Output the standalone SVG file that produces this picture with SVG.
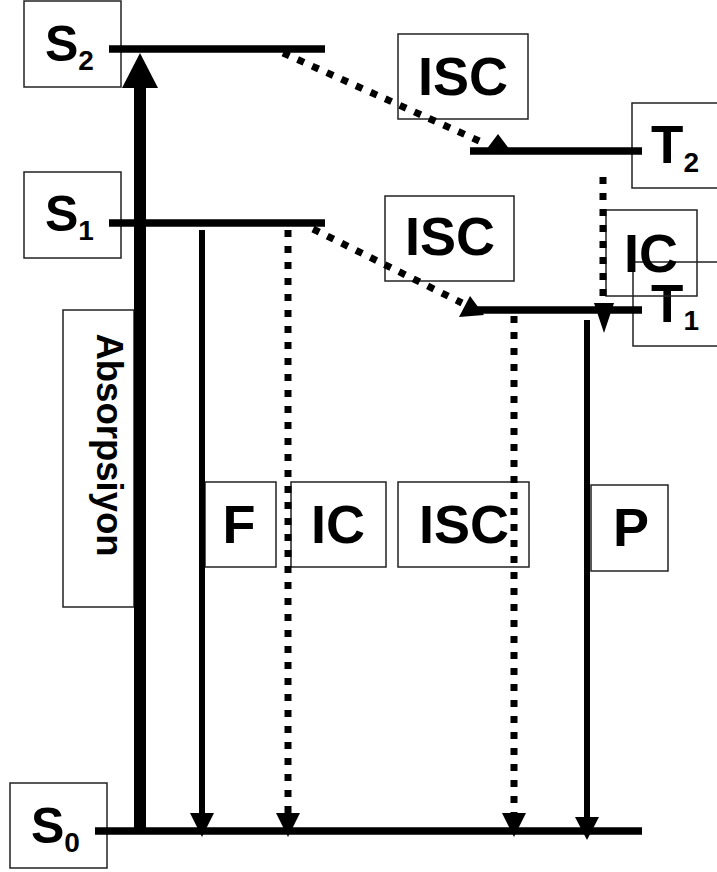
<svg xmlns="http://www.w3.org/2000/svg" width="717" height="872" viewBox="0 0 717 872">
<style>
.box{fill:none;stroke:#222;stroke-width:1.5}
.lbl{font-family:"Liberation Sans",Arial,sans-serif;font-weight:bold;font-size:54px;fill:#000}
.mid{text-anchor:middle}
.lvl{stroke:#000;stroke-width:7.5;fill:none}
.solid{stroke:#000;stroke-width:6;fill:none}
.dot{stroke:#000;stroke-width:7;stroke-dasharray:7 9;fill:none}
.head{fill:#000}
</style>
<rect width="717" height="872" fill="#fff"/>

<g id="S2">
  <rect class="box" x="24" y="1" width="97" height="86"/>
  <text class="lbl" x="45" y="61" style="font-size:50px">S<tspan style="font-size:28px" dy="9">2</tspan></text>
  <line class="lvl" x1="109" y1="49" x2="325" y2="49"/>
</g>
<g id="S1">
  <rect class="box" x="24" y="172" width="97" height="86"/>
  <text class="lbl" x="45" y="231" style="font-size:50px">S<tspan style="font-size:28px" dy="9">1</tspan></text>
  <line class="lvl" x1="109" y1="223" x2="325" y2="223"/>
</g>
<g id="S0">
  <rect class="box" x="10" y="783" width="97" height="85"/>
  <text class="lbl" x="31" y="843" style="font-size:50px">S<tspan style="font-size:28px" dy="9">0</tspan></text>
  <line class="lvl" x1="95" y1="831" x2="642" y2="831"/>
</g>
<g id="T2">
  <rect class="box" x="632" y="103" width="90" height="85"/>
  <text class="lbl" x="651" y="163" style="font-size:53px">T<tspan style="font-size:28px" dy="9">2</tspan></text>
  <line class="lvl" x1="470" y1="151" x2="642" y2="151"/>
</g>
<g id="T1">
  <rect class="box" x="633" y="262" width="90" height="84"/>
  <text class="lbl" x="651" y="322" style="font-size:53px">T<tspan style="font-size:28px" dy="8">1</tspan></text>
  <line class="lvl" x1="470" y1="310" x2="642" y2="310"/>
</g>

<g id="label-absorpsiyon">
  <rect class="box" x="63" y="310" width="71" height="297"/>
  <text class="lbl mid" transform="translate(97,445) rotate(90)" style="font-size:36.5px">Absorpsiyon</text>
</g>
<g id="label-isc-s2t2">
  <rect class="box" x="398" y="34" width="130" height="85"/>
  <text class="lbl mid" x="463" y="95">ISC</text>
</g>
<g id="label-isc-s1t1">
  <rect class="box" x="385" y="196" width="129" height="85"/>
  <text class="lbl mid" x="450" y="255">ISC</text>
</g>
<g id="label-ic-t2t1">
  <rect class="box" x="606" y="210" width="91" height="86"/>
  <text class="lbl mid" x="651" y="272">IC</text>
</g>
<g id="label-f">
  <rect class="box" x="205" y="482" width="71" height="85"/>
  <text class="lbl mid" x="239" y="543">F</text>
</g>
<g id="label-ic-s1s0">
  <rect class="box" x="291" y="482" width="95" height="85"/>
  <text class="lbl mid" x="338" y="543">IC</text>
</g>
<g id="label-isc-t1s0">
  <rect class="box" x="398" y="482" width="131" height="85"/>
  <text class="lbl mid" x="464" y="543">ISC</text>
</g>
<g id="label-p">
  <rect class="box" x="591" y="485" width="77" height="86"/>
  <text class="lbl mid" x="631" y="546">P</text>
</g>

<g id="connectors">
  <!-- absorption -->
  <line stroke="#000" stroke-width="12" x1="140" y1="831" x2="140" y2="86"/>
  <polygon class="head" points="122,88 158,88 140,53"/>
  <!-- ISC S2 -> T2 -->
  <line class="dot" x1="283" y1="53" x2="486" y2="144"/>
  <polygon class="head" points="498,134 486,150 510,150"/>
  <!-- ISC S1 -> T1 -->
  <line class="dot" x1="313" y1="229" x2="462" y2="303"/>
  <polygon class="head" points="470,296 459,317 484,315"/>
  <!-- IC T2 -> T1 -->
  <line class="dot" x1="603" y1="177" x2="603" y2="305"/>
  <polygon class="head" points="594,303 614,303 604,333"/>
  <!-- F -->
  <line class="solid" x1="202" y1="230" x2="202" y2="815"/>
  <polygon class="head" points="190,813 214,813 202,837"/>
  <!-- IC S1 -> S0 -->
  <line class="dot" x1="288" y1="230" x2="288" y2="813"/>
  <polygon class="head" points="276,813 300,813 288,837"/>
  <!-- ISC T1 -> S0 -->
  <line class="dot" x1="514" y1="316" x2="514" y2="813"/>
  <polygon class="head" points="502,813 526,813 514,837"/>
  <!-- P -->
  <line class="solid" x1="587" y1="320" x2="587" y2="819"/>
  <polygon class="head" points="575,817 599,817 587,840"/>
</g>
</svg>
